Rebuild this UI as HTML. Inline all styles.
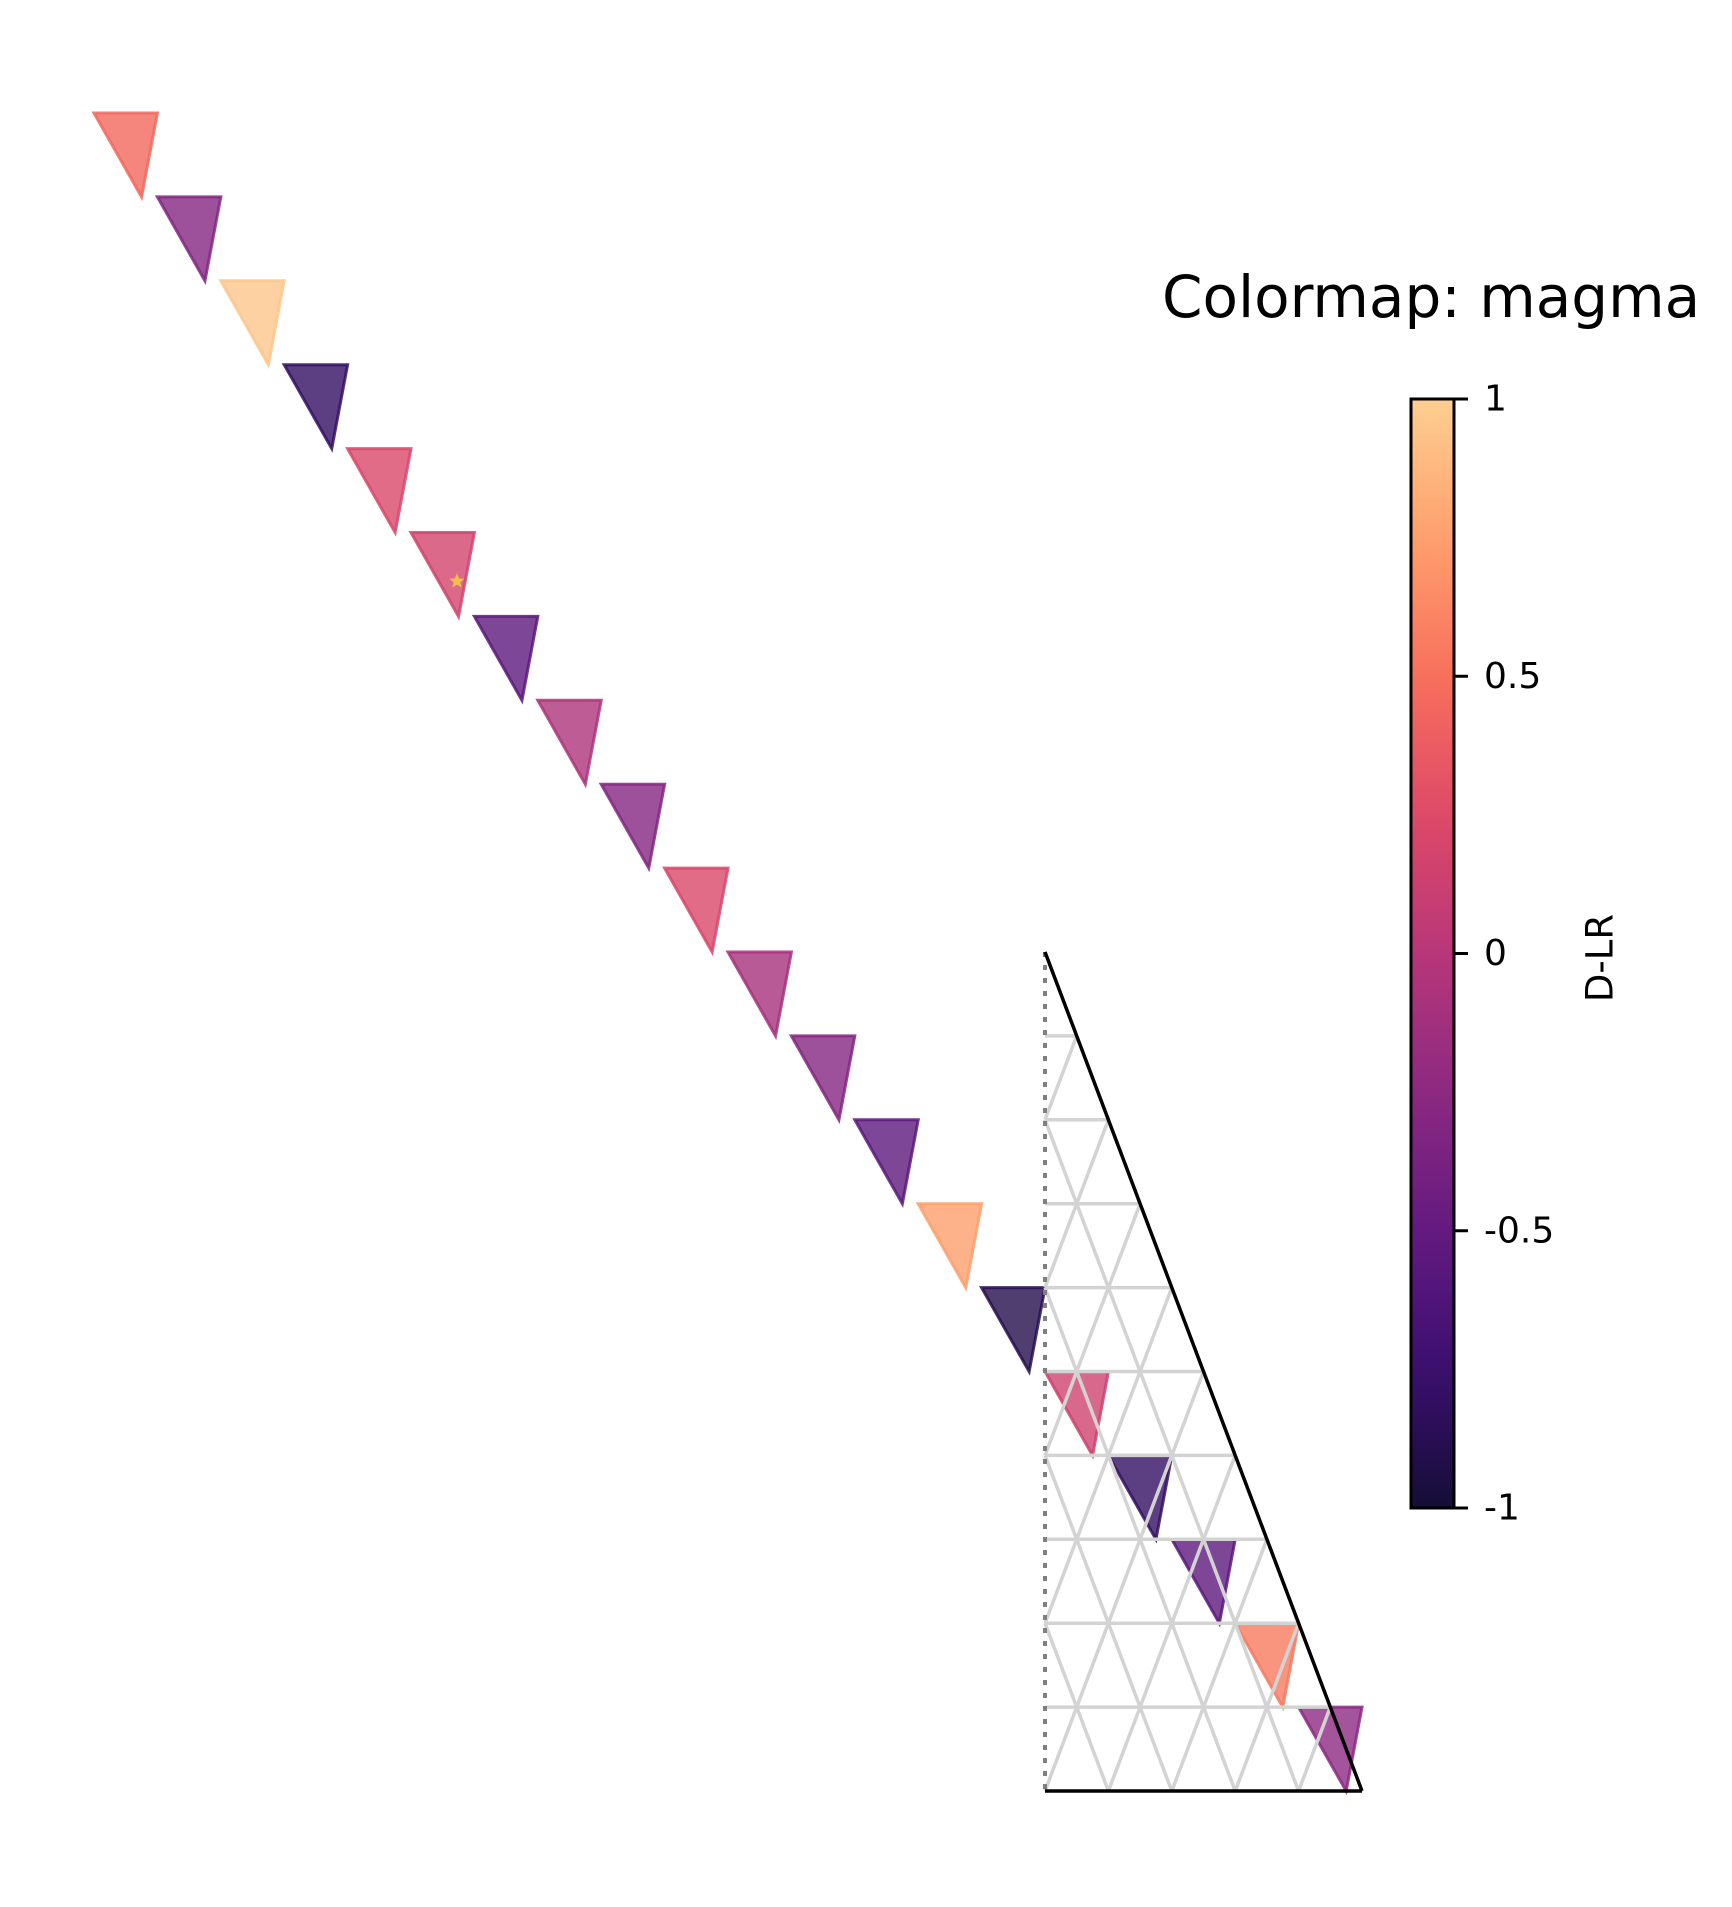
<!DOCTYPE html>
<html><head><meta charset="utf-8"><title>Colormap: magma</title>
<style>
html,body{margin:0;padding:0;background:#fff;}
svg{display:block;}
text{font-family:"DejaVu Sans","Liberation Sans",sans-serif;fill:#000;}
</style></head>
<body>
<svg id="chart" width="1732" height="1907" viewBox="0 0 1732 1907" xmlns="http://www.w3.org/2000/svg">
  <g id="markers"></g>
  <g id="grid"></g>
  <g id="frame"></g>
  <g id="stars"></g>
  <text x="1162" y="317" font-size="58">Colormap: magma</text>
  <defs>
    <linearGradient id="cbgrad" x1="0" y1="1" x2="0" y2="0"></linearGradient>
  </defs>
  <g id="colorbar"></g>
  <text x="1600" y="958" font-size="37" text-anchor="middle" dominant-baseline="central" transform="rotate(-90 1600 958)">D-LR</text>
</svg>
<script>
// ---- data ----
const markerRows = [-10,-9,-8,-7,-6,-5,-4,-3,-2,-1,0,1,2,3,4,5,6,7,8,9];
const markerCols = [-15,-14,-13,-12,-11,-10,-9,-8,-7,-6,-5,-4,-3,-2,-1,0,1,2,3,4];
const markerValues = [0.45,-0.3,0.95,-0.8,0.22,0.17,-0.55,-0.05,-0.3,0.22,-0.1,-0.3,-0.55,0.75,-0.9,0.15,-0.8,-0.55,0.55,-0.25];
const starIndex = [5];
const cbTicks = [1,0.5,0,-0.5,-1];
const cbTickLabels = ["1","0.5","0","-0.5","-1"];
const gridRows = 10;

// ---- axes ----
const X0 = 1045, Y0 = 952, ROWH = 83.9, HALF = 31.7;
function yRow(r){ return Y0 + ROWH*r; }
function xCol(c){ return X0 + 2*HALF*c; }
function xHalf(j){ return X0 + HALF*j; }
const CB_TOP = 399, CB_BOT = 1508, CB_L = 1411, CB_R = 1454;
function yVal(v){ return CB_BOT - (v+1)/2*(CB_BOT-CB_TOP); }

const magma = [[0,0,4],[20,14,54],[59,15,112],[100,26,128],[140,41,129],[183,55,121],[222,73,104],[247,112,92],[254,159,109],[254,207,146],[252,253,191]];
function cmap(v){
  let t = 0.1 + (v+1)/2*0.8; t = Math.max(0,Math.min(1,t));
  const p = t*10, i = Math.min(9,Math.floor(p)), f = p-i;
  const a = magma[i], b = magma[i+1];
  return 'rgb('+a.map((x,k)=>Math.round(x+(b[k]-x)*f)).join(',')+')';
}
const NS = 'http://www.w3.org/2000/svg';
function mk(tag, attrs, parent){ const e=document.createElementNS(NS,tag); for(const k in attrs) e.setAttribute(k,attrs[k]); parent.appendChild(e); return e; }

// ---- markers ----
const mg = document.getElementById('markers');
markerRows.forEach((r,k)=>{
  const x = xCol(markerCols[k]), y = yRow(r), c = cmap(markerValues[k]);
  const pts = [[x,y],[x+2*HALF,y],[x+1.5*HALF,y+ROWH]].map(p=>p.join(',')).join(' ');
  const p = mk('polygon',{points:pts,fill:c,'fill-opacity':0.8,stroke:c,'stroke-width':3,'stroke-opacity':0.85,'stroke-linejoin':'miter'},mg);
  
  
});

// ---- grid ----
const grid = document.getElementById('grid');
for(let i=1;i<gridRows;i++){
  const l = mk('line',{x1:X0,y1:yRow(i),x2:xHalf(i),y2:yRow(i),stroke:'#d3d3d3','stroke-width':3.5},grid);
  
  
}
for(let i=0;i<gridRows;i++){
  for(let j=i%2;j<=i;j+=2){
    if(j<i){
      const a = mk('line',{x1:xHalf(j),y1:yRow(i),x2:xHalf(j+1),y2:yRow(i+1),stroke:'#d3d3d3','stroke-width':3.5},grid);
      
      
    }
    if(j>=1){
      const b = mk('line',{x1:xHalf(j),y1:yRow(i),x2:xHalf(j-1),y2:yRow(i+1),stroke:'#d3d3d3','stroke-width':3.5},grid);
      
      
    }
  }
}
// ---- frame ----
const frame = document.getElementById('frame');
const lf = mk('line',{x1:X0,y1:Y0,x2:X0,y2:yRow(gridRows),stroke:'#808080','stroke-width':4,'stroke-dasharray':'5 8'},frame);


const re = mk('line',{x1:X0,y1:Y0,x2:xHalf(gridRows),y2:yRow(gridRows),stroke:'#000','stroke-width':3.5},frame);


const be = mk('line',{x1:X0,y1:yRow(gridRows),x2:xHalf(gridRows),y2:yRow(gridRows),stroke:'#000','stroke-width':3.5},frame);



// ---- stars ----
const sg = document.getElementById('stars');
starIndex.forEach(k=>{
  const sx = xCol(markerCols[k]) + 1.45*HALF, sy = yRow(markerRows[k]) + 0.58*ROWH;
  let d='';
  for(let i=0;i<10;i++){ const rr = i%2?3.5:8, a = -Math.PI/2 + i*Math.PI/5; d += (i?'L':'M')+(sx+rr*Math.cos(a)).toFixed(2)+','+(sy+rr*Math.sin(a)).toFixed(2); }
  const s = mk('path',{d:d+'Z',fill:'#f5c842','fill-opacity':0.9},sg);
  
  
});

// ---- colorbar ----
const grad = document.getElementById('cbgrad');
for(let i=0;i<=20;i++){
  const v = -1 + i/10;
  mk('stop',{offset:(i/20),'stop-color':cmap(v)},grad);
}
const cb = document.getElementById('colorbar');
const rect = mk('rect',{x:CB_L,y:CB_TOP,width:CB_R-CB_L,height:CB_BOT-CB_TOP,fill:'url(#cbgrad)',stroke:'#000','stroke-width':3},cb);


cbTicks.forEach((v,k)=>{
  const y = yVal(v);
  const t = mk('line',{x1:CB_R,y1:y,x2:CB_R+14,y2:y,stroke:'#000','stroke-width':3},cb);
  
  
  const tx = mk('text',{x:CB_R+30,y:y,'font-size':36,'dominant-baseline':'central'},cb);
  tx.textContent = cbTickLabels[k];
  
  
});
</script>
</body></html>
